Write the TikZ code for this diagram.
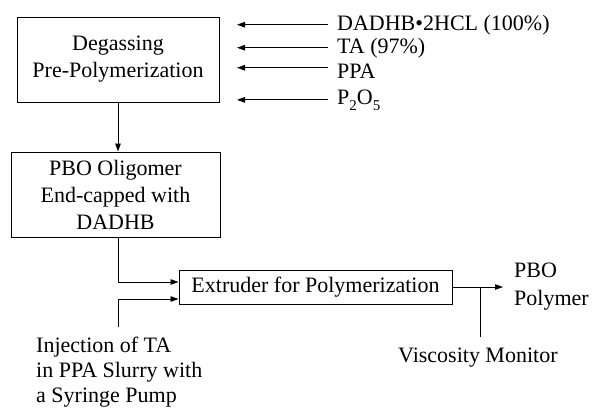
\documentclass[tikz,border=0pt]{standalone}
\usepackage{fontspec}
\setmainfont{Liberation Serif}
\usetikzlibrary{arrows.meta,calc}
\begin{document}
\begin{tikzpicture}[x=1pt,y=-1pt,
  every node/.style={font=\fontsize{22}{27}\selectfont},
  box/.style={draw,line width=1pt,inner sep=0pt,align=center},
  lbl/.style={inner sep=0pt,anchor=base west},
  arr/.style={line width=0.9pt,-{Triangle[length=8pt,width=5.5pt]}},
  ln/.style={line width=0.9pt}]
\useasboundingbox (0,0) rectangle (593,408);
% boxes
\node[box,minimum width=202pt,minimum height=85pt] (deg) at (118,59.5) {Degassing\\Pre-Polymerization};
\node[box,minimum width=209pt,minimum height=85pt] (olig) at (115.5,194.5) {PBO Oligomer\\End-capped with\\DADHB};
\node[box,minimum width=273pt,minimum height=34pt] (ext) at (315.5,287) {Extruder for Polymerization};
% inputs
\node[lbl] (i1) at (337,30) {DADHB\textbullet 2HCL (100\%)};
\node[lbl] (i2) at (337,53) {TA (97\%)};
\node[lbl] (i3) at (337,78) {PPA};
\node[lbl] (i4) at (337,104) {P\raisebox{-0.28em}{\fontsize{15}{15}\selectfont 2}O\raisebox{-0.28em}{\fontsize{15}{15}\selectfont 5}};
\coordinate (e) at (237,0);
\draw[arr] ([xshift=-9pt]i1.west) -- (i1.west -| e);
\draw[arr] ([xshift=-9pt]i2.west) -- (i2.west -| e);
\draw[arr] ([xshift=-9pt,yshift=3pt]i3.west) -- ([yshift=3pt]i3.west -| e);
\draw[arr] ([xshift=-9pt]i4.west) -- (i4.west -| e);
% flow
\draw[arr] (deg.south) -- (deg.south |- olig.north);
\draw[arr] (olig.south -| deg.south) |- ([yshift=5pt]ext.west);
\coordinate (c2) at (118,327);
\draw[arr] (c2) |- ([yshift=-12pt]ext.west);
\node[lbl,align=left,font=\fontsize{22}{25}\selectfont] (inj) at (36,402) {Injection of TA\\in PPA Slurry with\\a Syringe Pump};
% output
\coordinate (out) at (503,287);
\draw[arr] (ext.east) -- (out);
\coordinate (v) at (480,337);
\draw[ln] (v) -- (v |- ext.east);
\node[lbl] (visc) at (398,362) {Viscosity Monitor};
\node[lbl,align=left,font=\fontsize{22}{28}\selectfont] (pbo) at (514,305) {PBO\\Polymer};
\end{tikzpicture}
\end{document}
